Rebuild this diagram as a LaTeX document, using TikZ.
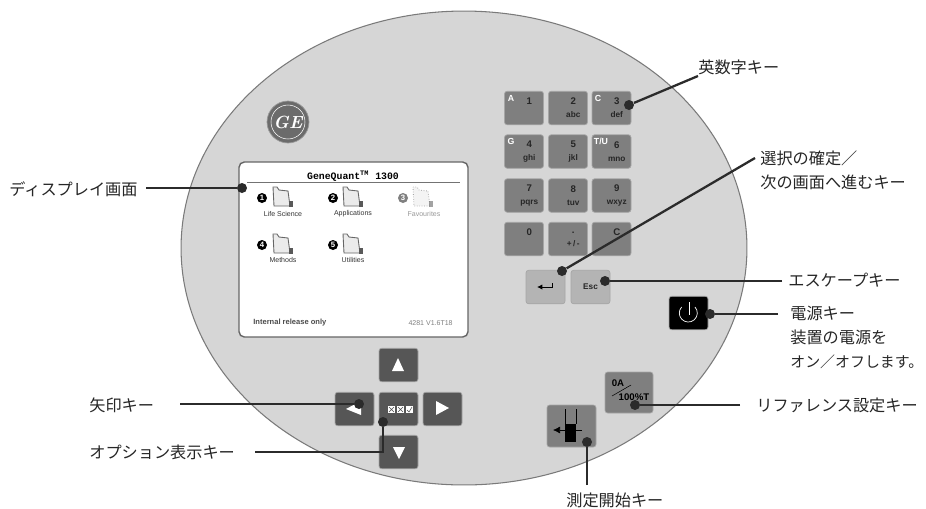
\documentclass[tikz,border=0pt]{standalone}
\usepackage{fontspec}
\setsansfont{Liberation Sans}
\setmonofont{Liberation Mono}
\newfontfamily\jpfont{Noto Sans CJK JP}
\usetikzlibrary{arrows.meta,positioning,shapes.geometric}
\usepackage{xcolor}
\definecolor{DiscGray}{HTML}{D6D6D6}
\definecolor{RimGray}{HTML}{7A7A7A}
\definecolor{KeyGray}{HTML}{7F7F7F}
\definecolor{ArrowGray}{HTML}{565656}
\definecolor{PaleGray}{HTML}{B4B4B4}
\definecolor{InkGray}{HTML}{2B2B2B}
\newcommand{\padtext}[2]{\hspace*{6pt}#1\\[1pt]\hspace*{6pt}{\fontsize{4.7}{6.5}\selectfont #2}}
\tikzset{
  keybase/.style={draw=black!35,line width=0.4pt,rounded corners=1.5pt,
    minimum width=0.78cm,minimum height=0.67cm,inner sep=0pt,align=center,
    font=\sffamily\bfseries\fontsize{5.5}{6.5}\selectfont,text=black!85},
  numkey/.style={keybase,fill=KeyGray},
  arrowkey/.style={keybase,fill=ArrowGray},
  palekey/.style={keybase,fill=PaleGray},
  cornertag/.style={inner sep=0pt,text=white,font=\sffamily\bfseries\fontsize{5}{6}\selectfont},
  dot/.style={circle,fill=InkGray,minimum size=0.2cm,inner sep=0pt},
  leader/.style={InkGray,line width=1.3pt},
  callout/.style={inner sep=0pt,font=\jpfont\fontsize{9.2}{11}\selectfont,text=black!85,anchor=west},
  itemtag/.style={inner sep=0pt,font=\sffamily\fontsize{4}{5}\selectfont,text=black!80},
  numball/.style={circle,fill=black,text=white,minimum size=0.2cm,inner sep=0pt,
    font=\sffamily\bfseries\fontsize{4.4}{4.4}\selectfont},
  pics/foldericon/.style={code={
    \draw[black!60,fill=black!8,line width=0.5pt] (-10,-10) -- (-6,-10) -- (-4,-7) -- (5,-6) -- (7,9) -- (-9,9) -- cycle;
    \fill[black!65] (6,4) -- (10,4) -- (10,10) -- (6,10) -- cycle;
  }}
}
\begin{document}
\begin{tikzpicture}[x=0.02cm,y=-0.02cm]
  \useasboundingbox (0,0) rectangle (926,508);
  \fill[white] (0,0) rectangle (926,508);
  \node[draw=RimGray,fill=DiscGray,ellipse,line width=0.6pt,minimum width=11.32cm,minimum height=9.48cm,inner sep=0pt] (disc) at (464,248) {};

  % logo
  \node[circle,fill=black!58,draw=black!40,minimum size=0.84cm,inner sep=0pt] (logo) at (288,122) {};
  \node[circle,draw=white,line width=0.3pt,minimum size=0.68cm,inner sep=0pt,
        font=\itshape\bfseries\fontsize{10}{10}\selectfont,text=white] (logotext) at (288,122) {GE};

  % display
  \node[draw=black!60,fill=white,line width=0.8pt,rounded corners=3pt,
        minimum width=4.58cm,minimum height=3.5cm] (screen) at (353.5,249.5) {};
  \node[inner sep=0pt,font=\ttfamily\bfseries\fontsize{5.6}{6}\selectfont] (title) at (353,176) {GeneQuant\textsuperscript{TM} 1300};
  \draw[black!55,line width=0.4pt] (247,182) -- (460,182);
  \node[numball] (ball1) at (262,198) {1};
  \node[numball] (ball2) at (333,198) {2};
  \node[numball,fill=black!50] (ball3) at (403,198) {3};
  \node[numball] (ball4) at (262,245) {4};
  \node[numball] (ball5) at (333,245) {5};
  \pic at (283,197) {foldericon};
  \pic at (353,197) {foldericon};
  \pic[densely dotted,opacity=0.55] at (423,197) {foldericon};
  \pic at (283,244) {foldericon};
  \pic at (353,244) {foldericon};
  \node[itemtag] (item1) at (283,214) {Life Science};
  \node[itemtag] (item2) at (353,214) {Applications};
  \node[itemtag,text=black!40] (item3) at (424,214) {Favourites};
  \node[itemtag] (item4) at (283,260) {Methods};
  \node[itemtag] (item5) at (353,260) {Utilities};
  \node[itemtag,anchor=west,font=\sffamily\bfseries\fontsize{4.3}{5}\selectfont,text=black!70] (release) at (253,323) {Internal release only};
  \node[itemtag,anchor=east,text=black!50] (version) at (453,323) {4281 V1.6T18};

  % number pad
  \node[numkey] (key1) at (524,108) {\padtext{1}{\phantom{abc}}};
  \node[numkey] (key2) at (568,108) {\padtext{2}{abc}};
  \node[numkey] (key3) at (611.5,108) {\padtext{3}{def}};
  \node[numkey] (key4) at (524,151.5) {\padtext{4}{ghi}};
  \node[numkey] (key5) at (568,151.5) {\padtext{5}{jkl}};
  \node[numkey] (key6) at (611.5,151.5) {\padtext{6}{mno}};
  \node[numkey] (key7) at (524,195.5) {\padtext{7}{pqrs}};
  \node[numkey] (key8) at (568,195.5) {\padtext{8}{tuv}};
  \node[numkey] (key9) at (611.5,195.5) {\padtext{9}{wxyz}};
  \node[numkey] (key0) at (524,239) {\padtext{0}{\phantom{abc}}};
  \node[numkey] (keydot) at (568,239) {\padtext{.}{+\,/\,-}};
  \node[numkey] (keyclear) at (611.5,239) {\padtext{C}{\phantom{abc}}};
  \node[cornertag] (tagA) at (511,98) {A};
  \node[cornertag] (tagC) at (598,98) {C};
  \node[cornertag] (tagG) at (511,141) {G};
  \node[cornertag] (tagTU) at (601,141) {T/U};

  % enter, esc, power
  \node[palekey] (keyenter) at (545.5,287) {};
  \node[palekey,font=\sffamily\bfseries\fontsize{4.7}{6}\selectfont] (keyesc) at (590.5,287) {Esc};
  \draw[-{Latex[length=3pt,width=3pt]},black,line width=0.5pt] (552,283) -- (552,287) -- (537,287);
  \node[keybase,fill=black] (keypower) at (688.5,313) {};
  \draw[white,line width=0.4pt] (695,307) arc[start angle=-42,end angle=222,radius=9];
  \draw[white,line width=0.4pt] (689,302) -- (689,315);

  % arrows
  \node[arrowkey] (keyup) at (398.5,365) {};
  \node[arrowkey] (keyleft) at (354.5,409) {};
  \node[arrowkey] (keyoption) at (398.5,409) {};
  \node[arrowkey] (keyright) at (442.5,409) {};
  \node[arrowkey] (keydown) at (398.5,452) {};
  \fill[white] (392,371) -- (404,371) -- (398,358) -- cycle;
  \fill[white] (346,409) -- (361,401) -- (361,415) -- cycle;
  \fill[white] (436,401) -- (436,415) -- (449,408) -- cycle;
  \fill[white] (393,447) -- (405,447) -- (399,459) -- cycle;
  \fill[white] (388,406) rectangle (395,413);
  \fill[white] (397,406) rectangle (404,413);
  \fill[white] (406,406) rectangle (412.5,413);
  \draw[black!70,line width=0.3pt] (389,407) -- (394,412) (389,412) -- (394,407)
    (398,407) -- (403,412) (398,412) -- (403,407) (407,410) -- (409,412) -- (412,407);

  % measure and reference keys
  \node[keybase,fill=KeyGray,minimum width=0.98cm,minimum height=0.84cm] (keyread) at (571.5,426) {};
  \draw[black,line width=0.4pt] (565,409) -- (565,424) (576,409) -- (576,424);
  \fill[black] (565,424) rectangle (576,442);
  \draw[-{Latex[length=4pt,width=4pt]},black,line width=0.4pt] (582,430) -- (553,430);
  \node[keybase,fill=KeyGray,minimum width=0.96cm,minimum height=0.82cm] (keyref) at (629,392.5) {};
  \node[inner sep=0pt,font=\sffamily\bfseries\fontsize{5.5}{6}\selectfont] (refa) at (618,383) {0A};
  \node[inner sep=0pt,font=\sffamily\bfseries\fontsize{5.5}{6}\selectfont] (reft) at (634,397) {100\%T};
  \draw[black,line width=0.3pt] (612,396) -- (631,385);

  % callouts
  \node[callout] (lbldisplay) at (9,189) {ディスプレイ画面};
  \node[callout] (lblalnum) at (698,67) {英数字キー};
  \node[callout] (lblenterA) at (760,158) {選択の確定／};
  \node[callout] (lblenterB) at (760,182) {次の画面へ進むキー};
  \node[callout] (lblesc) at (788,280) {エスケープキー};
  \node[callout] (lblpowerA) at (790,313) {電源キー};
  \node[callout] (lblpowerB) at (790,337) {装置の電源を};
  \node[callout,font=\jpfont\fontsize{8.5}{11}\selectfont] (lblpowerC) at (790,362) {オン／オフします。};
  \node[callout] (lblref) at (756,405) {リファレンス設定キー};
  \node[callout] (lblread) at (566,500) {測定開始キー};
  \node[callout] (lblarrow) at (89,405) {矢印キー};
  \node[callout] (lbloption) at (89,452) {オプション表示キー};

  \node[dot] (dotdisplay) at (242,188) {};
  \node[dot] (dotalnum) at (629,105) {};
  \node[dot] (dotenter) at (562,271) {};
  \node[dot] (dotesc) at (605,281) {};
  \node[dot] (dotpower) at (710,314) {};
  \node[dot] (dotref) at (635,405) {};
  \node[dot] (dotread) at (587,442) {};
  \node[dot] (dotarrow) at (359,404) {};
  \node[dot] (dotoption) at (383,422) {};

  \coordinate (enddisplay) at (146,188);
  \coordinate (endalnum) at (698,76);
  \coordinate (endenter) at (755,158);
  \coordinate (endesc) at (782,281);
  \coordinate (endpower) at (778,314);
  \coordinate (endref) at (740,405);
  \coordinate (endread) at (587,485);
  \coordinate (endarrow) at (180,404);
  \coordinate (endoption) at (255,452);

  \draw[leader] (enddisplay) -- (dotdisplay);
  \draw[leader] (endalnum) -- (dotalnum);
  \draw[leader] (endenter) -- (dotenter);
  \draw[leader] (endesc) -- (dotesc);
  \draw[leader] (endpower) -- (dotpower);
  \draw[leader] (endref) -- (dotref);
  \draw[leader] (endread) -- (dotread);
  \draw[leader] (endarrow) -- (dotarrow);
  \draw[leader] (endoption) -| (dotoption);
\end{tikzpicture}
\end{document}
